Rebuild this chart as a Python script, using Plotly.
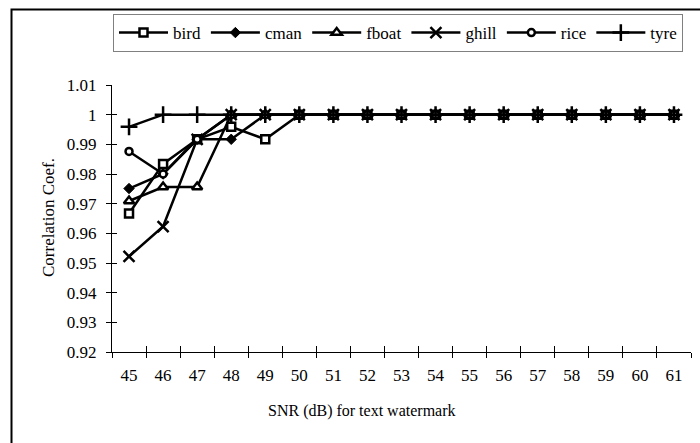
import plotly.graph_objects as go
import numpy as np

snr = [45, 46, 47, 48, 49, 50, 51, 52, 53, 54, 55, 56, 57, 58, 59, 60, 61]
bird = [0.9667, 0.9834, 0.9917, 0.9959, 0.9917] + [1.0] * 12
cman = [0.9751, 0.9800, 0.9917, 0.9917] + [1.0] * 13
fboat = [0.9709, 0.9756, 0.9756] + [1.0] * 14
ghill = [0.9522, 0.9623, 0.9917] + [1.0] * 14
rice = [0.9876, 0.9800, 0.9917] + [1.0] * 14
tyre = [0.9959] + [1.0] * 16

y_ticks = [0.92, 0.93, 0.94, 0.95, 0.96, 0.97, 0.98, 0.99, 1.0, 1.01]
y_ticklabels = ["0.92", "0.93", "0.94", "0.95", "0.96", "0.97", "0.98", "0.99", "1", "1.01"]

series = [
    ("bird", bird, dict(symbol="square", size=8, color="white", line=dict(color="black", width=2.5))),
    ("cman", cman, dict(symbol="diamond", size=8, color="black", line=dict(color="black", width=1))),
    ("fboat", fboat, dict(symbol="triangle-up", size=9, color="white", line=dict(color="black", width=2.5))),
    ("ghill", ghill, dict(symbol="x-thin-open", size=11, color="black", line=dict(color="black", width=2.5))),
    ("rice", rice, dict(symbol="circle", size=7, color="white", line=dict(color="black", width=2.5))),
    ("tyre", tyre, dict(symbol="cross-thin-open", size=12, color="black", line=dict(color="black", width=2.5))),
]

FONT = "Times New Roman, Liberation Serif, DejaVu Serif, serif"
cats = [str(v) for v in snr]

fig = go.Figure()
for name, vals, mk in series:
    fig.add_trace(go.Scatter(x=cats, y=vals, name=name, mode="lines+markers",
                             line=dict(color="black", width=2.5), marker=mk))

# invisible trace for the overlay axes (inside halves of the crossing ticks)
fig.add_trace(go.Scatter(x=[snr[0]], y=[y_ticks[0]], xaxis="x2", yaxis="y2",
                         mode="markers", marker=dict(opacity=0), showlegend=False,
                         hoverinfo="skip"))

L, R, T, B = 112, 9, 85, 91
W, H = 700, 443
pw, ph = W - L - R, H - T - B

def px_x(p):
    return (p - L) / pw

def px_y(p):
    return (H - B - p) / ph

fig.update_layout(
    width=W, height=H,
    margin=dict(l=L, r=R, t=T, b=B),
    paper_bgcolor="white", plot_bgcolor="white",
    font=dict(family=FONT, size=17, color="black"),
    showlegend=True,
    legend=dict(orientation="h", x=px_x(113), y=px_y(14), xanchor="left", yanchor="top",
                bordercolor="#808080", borderwidth=1, font=dict(size=17, family=FONT),
                itemwidth=49, tracegroupgap=0),
    xaxis=dict(type="category", categoryorder="array", categoryarray=cats,
               range=[-0.5, len(cats) - 0.5], tickson="boundaries",
               ticks="outside", ticklen=5, tickwidth=1, tickcolor="black",
               showline=True, linecolor="black", linewidth=1,
               showgrid=False, zeroline=False, ticklabelstandoff=8,
               tickfont=dict(size=17, family=FONT)),
    yaxis=dict(range=[y_ticks[0], y_ticks[-1]], tickvals=y_ticks, ticktext=y_ticklabels,
               ticks="outside", ticklen=5, tickwidth=1, tickcolor="black",
               showline=True, linecolor="black", linewidth=1,
               showgrid=False, zeroline=False, ticklabelstandoff=6,
               tickfont=dict(size=17, family=FONT)),
    xaxis2=dict(overlaying="x", anchor="y2", side="bottom",
                range=[snr[0] - 0.5, snr[-1] + 0.5],
                tickvals=list(np.arange(snr[0] - 0.5, snr[-1] + 1.0, 1.0)),
                ticks="inside", ticklen=6, tickwidth=1, tickcolor="black",
                showticklabels=False, showline=False, showgrid=False, zeroline=False),
    yaxis2=dict(overlaying="y", anchor="x2", side="left",
                range=[y_ticks[0], y_ticks[-1]], tickvals=y_ticks,
                ticks="inside", ticklen=5, tickwidth=1, tickcolor="black",
                showticklabels=False, showline=False, showgrid=False, zeroline=False),
    annotations=[
        dict(text="SNR (dB) for text watermark", xref="paper", yref="paper",
             x=px_x(362), y=px_y(411), xanchor="center", yanchor="middle",
             showarrow=False, font=dict(size=16, family=FONT)),
        dict(text="Correlation Coef.", xref="paper", yref="paper",
             x=px_x(48), y=px_y(218), xanchor="center", yanchor="middle",
             textangle=-90, showarrow=False, font=dict(size=17, family=FONT)),
    ],
    shapes=[
        dict(type="rect", xref="paper", yref="paper",
             x0=px_x(11.5), x1=px_x(705), y0=px_y(450), y1=px_y(9.5),
             line=dict(color="black", width=2), fillcolor="rgba(0,0,0,0)", layer="below"),
    ],
)

fig.write_html("out.html")
